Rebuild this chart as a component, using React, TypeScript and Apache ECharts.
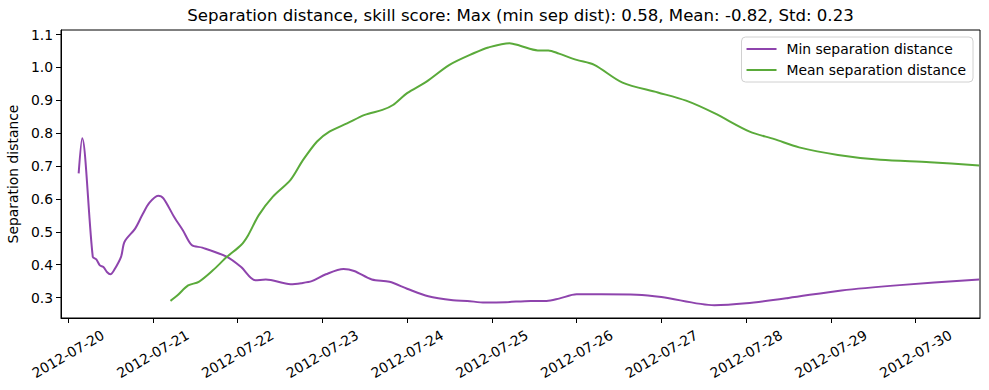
import React, { useEffect, useRef } from "react";
import * as echarts from "echarts";

const minTimes = [
  "2012-07-20 03:00", "2012-07-20 04:00", "2012-07-20 07:00", "2012-07-20 08:00", "2012-07-20 09:00",
  "2012-07-20 10:00", "2012-07-20 11:00", "2012-07-20 12:00", "2012-07-20 13:00", "2012-07-20 15:00",
  "2012-07-20 16:00", "2012-07-20 19:00", "2012-07-20 21:00", "2012-07-20 23:00", "2012-07-21 01:30",
  "2012-07-21 03:00", "2012-07-21 06:00", "2012-07-21 08:30", "2012-07-21 11:00", "2012-07-21 14:00",
  "2012-07-21 21:00", "2012-07-22 01:00", "2012-07-22 05:00", "2012-07-22 08:00", "2012-07-22 15:00",
  "2012-07-22 18:00", "2012-07-22 21:00", "2012-07-23 01:00", "2012-07-23 06:00", "2012-07-23 09:00",
  "2012-07-23 14:00", "2012-07-23 19:00", "2012-07-24 00:00", "2012-07-24 06:00", "2012-07-24 13:00",
  "2012-07-24 17:00", "2012-07-24 22:00", "2012-07-25 04:00", "2012-07-25 11:00", "2012-07-25 15:30",
  "2012-07-25 19:00", "2012-07-26 00:00", "2012-07-26 07:00", "2012-07-26 17:00", "2012-07-27 00:00",
  "2012-07-27 15:00", "2012-07-28 00:00", "2012-07-28 12:00", "2012-07-29 03:00", "2012-07-29 19:30",
  "2012-07-30 18:00",
];
const minValues = [
  0.678, 0.785, 0.424, 0.416, 0.398,
  0.393, 0.378, 0.371, 0.383, 0.424,
  0.47, 0.51, 0.551, 0.588, 0.61,
  0.602, 0.546, 0.505, 0.46, 0.452,
  0.424, 0.393, 0.353, 0.355, 0.341,
  0.344, 0.35, 0.371, 0.387, 0.381,
  0.355, 0.348, 0.327, 0.304, 0.292,
  0.29, 0.285, 0.286, 0.29, 0.29,
  0.297, 0.31, 0.31, 0.309, 0.302,
  0.277, 0.283, 0.299, 0.322, 0.338,
  0.355,
];

const meanTimes = [
  "2012-07-21 05:00", "2012-07-21 07:00", "2012-07-21 10:00", "2012-07-21 13:00", "2012-07-21 17:00",
  "2012-07-21 21:00", "2012-07-22 01:00", "2012-07-22 03:00", "2012-07-22 06:00", "2012-07-22 10:00",
  "2012-07-22 15:00", "2012-07-22 18:30", "2012-07-22 22:30", "2012-07-23 02:00", "2012-07-23 07:00",
  "2012-07-23 12:00", "2012-07-23 17:00", "2012-07-23 20:00", "2012-07-24 00:00", "2012-07-24 05:30",
  "2012-07-24 12:00", "2012-07-24 19:00", "2012-07-24 23:00", "2012-07-25 05:00", "2012-07-25 08:00",
  "2012-07-25 13:00", "2012-07-25 16:00", "2012-07-25 19:00", "2012-07-26 00:00", "2012-07-26 05:00",
  "2012-07-26 13:00", "2012-07-26 23:00", "2012-07-27 07:00", "2012-07-27 15:00", "2012-07-28 01:00",
  "2012-07-28 08:00", "2012-07-28 15:00", "2012-07-29 02:00", "2012-07-29 14:00", "2012-07-30 04:00",
  "2012-07-30 18:00",
];
const meanValues = [
  0.29, 0.307, 0.337, 0.348, 0.383,
  0.424, 0.46, 0.49, 0.551, 0.607,
  0.658, 0.718, 0.775, 0.805, 0.83,
  0.856, 0.871, 0.886, 0.922, 0.957,
  1.008, 1.044, 1.061, 1.074, 1.066,
  1.052, 1.052, 1.042, 1.023, 1.008,
  0.954, 0.924, 0.899, 0.861, 0.805,
  0.782, 0.757, 0.734, 0.719, 0.712,
  0.702,
];

const xTickDays = [
  "2012-07-20", "2012-07-21", "2012-07-22", "2012-07-23", "2012-07-24", "2012-07-25",
  "2012-07-26", "2012-07-27", "2012-07-28", "2012-07-29", "2012-07-30",
];
const yTicks = [0.3, 0.4, 0.5, 0.6, 0.7, 0.8, 0.9, 1.0, 1.1];

const titleText = "Separation distance, skill score: Max (min sep dist): 0.58, Mean: -0.82, Std: 0.23";
const seriesNames = ["Min separation distance", "Mean separation distance"];

const toTs = (s: string) => new Date(s.length <= 10 ? s + "T00:00" : s.replace(" ", "T")).getTime();
const pad = (n: number) => (n < 10 ? "0" + n : "" + n);
const fmtDay = (v: number) => {
  const d = new Date(v + 60000);
  return d.getFullYear() + "-" + pad(d.getMonth() + 1) + "-" + pad(d.getDate());
};

const FONT = "DejaVu Sans";

export default function App() {
  const ref = useRef<HTMLDivElement>(null);
  useEffect(() => {
    if (!ref.current) return;
    const chart = echarts.init(ref.current, undefined, { renderer: "svg" });
    const xTicks = xTickDays.map(toTs);
    chart.setOption({
      animation: false,
      backgroundColor: "#ffffff",
      textStyle: { fontFamily: FONT },
      graphic: [
        {
          type: "text",
          x: 520.5,
          y: 15,
          style: {
            text: titleText,
            align: "center",
            verticalAlign: "middle",
            font: `16.6px "${FONT}"`,
            fill: "#000",
          },
        },
      ],
      grid: {
        left: 61,
        right: 9,
        top: 30,
        bottom: 72,
        outerBoundsMode: "none",
        containLabel: false,
        show: true,
        borderColor: "#000",
        borderWidth: 1,
        backgroundColor: "transparent",
      },
      legend: {
        orient: "vertical",
        right: 16,
        top: 37,
        icon: "rect",
        itemWidth: 30,
        itemHeight: 2,
        itemGap: 7,
        padding: [5, 7, 5, 5],
        borderColor: "#d0d0d0",
        borderWidth: 1,
        borderRadius: 4,
        backgroundColor: "#fff",
        textStyle: { fontFamily: FONT, fontSize: 13.9, color: "#000", padding: [0, 0, 0, 5] },
        data: seriesNames,
      },
      xAxis: {
        type: "value",
        min: toTs("2012-07-19 22:00"),
        max: toTs("2012-07-30 18:13"),
        scale: true,
        splitLine: { show: false },
        axisLine: { show: true, onZero: false, lineStyle: { color: "#000", width: 1 } },
        axisTick: {
          show: true,
          length: 5,
          lineStyle: { color: "#000" },
          customValues: xTicks,
        },
        axisLabel: {
          customValues: xTicks,
          formatter: (v: number) => fmtDay(v),
          rotate: 30,
          align: "center",
          verticalAlign: "middle",
          margin: 36,
          fontFamily: FONT,
          fontSize: 13.9,
          color: "#000",
          hideOverlap: false,
        },
      },
      yAxis: {
        type: "value",
        min: 0.238,
        max: 1.114,
        name: "Separation distance",
        nameLocation: "middle",
        nameGap: 39,
        nameTextStyle: { fontFamily: FONT, fontSize: 13.9, color: "#000" },
        splitLine: { show: false },
        axisLine: { show: true, onZero: false, lineStyle: { color: "#000", width: 1 } },
        axisTick: {
          show: true,
          length: 5,
          lineStyle: { color: "#000" },
          customValues: yTicks,
        },
        axisLabel: {
          customValues: yTicks,
          formatter: (v: number) => v.toFixed(1),
          margin: 8,
          fontFamily: FONT,
          fontSize: 13.9,
          color: "#000",
        },
      },
      series: [
        {
          name: seriesNames[0],
          type: "line",
          data: minTimes.map((t, i) => [toTs(t), minValues[i]]),
          showSymbol: false,
          smooth: 0.3,
          lineStyle: { color: "#8e44ad", width: 2 },
          itemStyle: { color: "#8e44ad" },
        },
        {
          name: seriesNames[1],
          type: "line",
          data: meanTimes.map((t, i) => [toTs(t), meanValues[i]]),
          showSymbol: false,
          smooth: 0.3,
          lineStyle: { color: "#5aaa3a", width: 2 },
          itemStyle: { color: "#5aaa3a" },
        },
      ],
    });
    return () => chart.dispose();
  }, []);
  return (
    <div
      ref={ref}
      style={{ position: "fixed", left: 0, top: 0, width: 989, height: 390, background: "#fff" }}
    />
  );
}
